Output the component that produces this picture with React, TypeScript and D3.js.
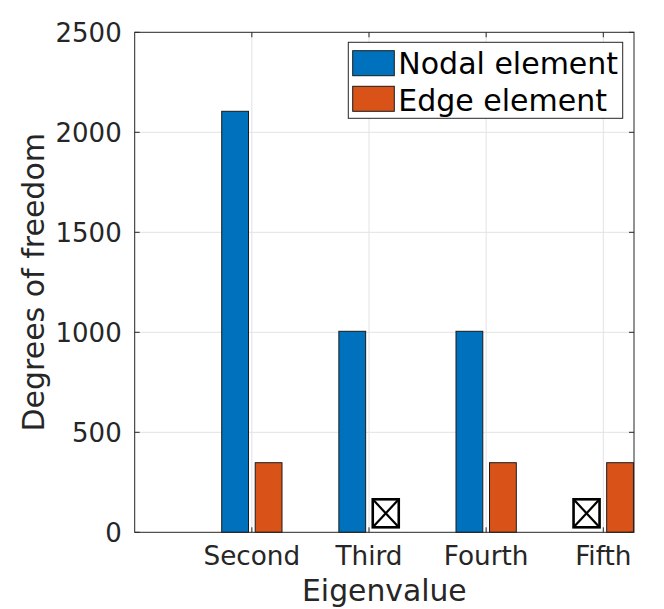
import React from "react";
import * as d3 from "d3";

const categories = ["Second", "Third", "Fourth", "Fifth"];
const categoryPos = [2, 3, 4, 5];
const nodalValues: (number | null)[] = [2105, 1005, 1005, null];
const edgeValues: (number | null)[] = [348, null, 348, 348];
const yTicks = [0, 500, 1000, 1500, 2000, 2500];
const seriesNames = ["Nodal element", "Edge element"];
const seriesColors = ["#0072BD", "#D95319"];
const missingMarkerValue = 95;

const W = 664;
const H = 609;
const left = 134.7;
const right = 634;
const top = 32.3;
const bottom = 532.3;
const FONT = "DejaVu Sans";

export default function App() {
  const x = d3.scaleLinear().domain([1, 5.262]).range([left, right]);
  const y = d3.scaleLinear().domain([0, 2500]).range([bottom, top]);
  const unit = x(3) - x(2);
  const barW = 0.2286 * unit;
  const offset = 0.143 * unit;
  const series = [nodalValues, edgeValues];

  return (
    <svg
      width={W}
      height={H}
      style={{ position: "absolute", left: 0, top: 0, background: "#fff" }}
      fontFamily={FONT}
    >
      <rect x={0} y={0} width={W} height={H} fill="#fff" />
      {/* grid */}
      {yTicks.slice(1, -1).map((t) => (
        <line key={"gy" + t} x1={left} x2={right} y1={y(t)} y2={y(t)} stroke="#e3e3e3" strokeWidth={1} />
      ))}
      {categoryPos.map((p) => (
        <line key={"gx" + p} x1={x(p)} x2={x(p)} y1={top} y2={bottom} stroke="#e3e3e3" strokeWidth={1} />
      ))}
      {/* bars */}
      {series.map((vals, si) =>
        vals.map((v, i) => {
          const cx = x(categoryPos[i]) + (si === 0 ? -offset : offset);
          if (v === null) {
            const bw = 26;
            const bh = 28;
            const cy = y(missingMarkerValue);
            return (
              <g key={"m" + si + i}>
                <rect x={cx - bw / 2} y={cy - bh / 2} width={bw} height={bh} fill="#fff" stroke="#000" strokeWidth={2.6} />
                <line x1={cx - bw / 2} y1={cy - bh / 2} x2={cx + bw / 2} y2={cy + bh / 2} stroke="#000" strokeWidth={2.2} />
                <line x1={cx + bw / 2} y1={cy - bh / 2} x2={cx - bw / 2} y2={cy + bh / 2} stroke="#000" strokeWidth={2.2} />
              </g>
            );
          }
          return (
            <rect
              key={"b" + si + i}
              x={cx - barW / 2}
              y={y(v)}
              width={barW}
              height={y(0) - y(v)}
              fill={seriesColors[si]}
              stroke="#1a1a1a"
              strokeWidth={1}
            />
          );
        })
      )}
      {/* axes box */}
      <rect x={left} y={top} width={right - left} height={bottom - top} fill="none" stroke="#262626" strokeWidth={1} />
      {/* ticks */}
      {yTicks.map((t) => (
        <g key={"ty" + t}>
          <line x1={left} x2={left + 5} y1={y(t)} y2={y(t)} stroke="#262626" />
          <line x1={right} x2={right - 5} y1={y(t)} y2={y(t)} stroke="#262626" />
          <text x={left - 13} y={y(t) + 9.4} textAnchor="end" fontSize={26} fill="#262626">
            {t}
          </text>
        </g>
      ))}
      {categoryPos.map((p, i) => (
        <g key={"tx" + p}>
          <line x1={x(p)} x2={x(p)} y1={bottom} y2={bottom - 5} stroke="#262626" />
          <line x1={x(p)} x2={x(p)} y1={top} y2={top + 5} stroke="#262626" />
          <text x={x(p)} y={565} textAnchor="middle" fontSize={26.3} fill="#262626">
            {categories[i]}
          </text>
        </g>
      ))}
      {/* axis labels */}
      <text x={(left + right) / 2} y={601} textAnchor="middle" fontSize={29.8} fill="#262626">
        Eigenvalue
      </text>
      <text
        transform={`translate(44, ${(top + bottom) / 2}) rotate(-90)`}
        textAnchor="middle"
        fontSize={30}
        fill="#262626"
      >
        Degrees of freedom
      </text>
      {/* legend */}
      <rect x={348.3} y={42.3} width={274.4} height={76} fill="#fff" stroke="#262626" strokeWidth={1} />
      {seriesNames.map((n, i) => (
        <g key={"lg" + i}>
          <rect x={352.7} y={50.7 + i * 35.6} width={41.6} height={25} fill={seriesColors[i]} stroke="#1a1a1a" strokeWidth={1} />
          <text x={398.3} y={74.3 + i * 36.4} fontSize={30} fill="#000">
            {n}
          </text>
        </g>
      ))}
    </svg>
  );
}
